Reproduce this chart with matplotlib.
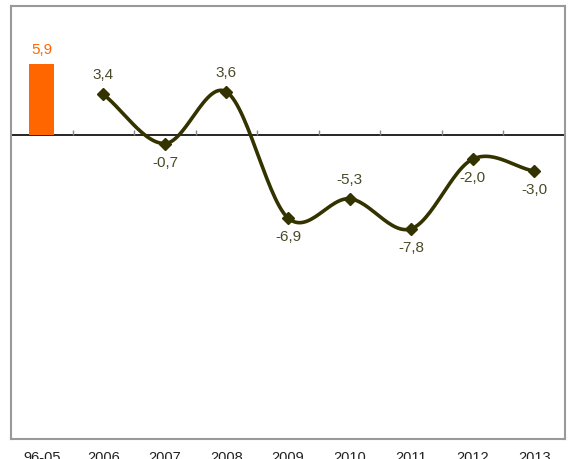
import numpy as np
import matplotlib
matplotlib.use("Agg")
import matplotlib.pyplot as plt

plt.rcParams['font.family'] = ['Liberation Sans Narrow', 'Liberation Sans', 'DejaVu Sans']

categories = ["96-05", "2006", "2007", "2008", "2009", "2010", "2011", "2012", "2013"]
bar_value = 5.9
line_values = [3.4, -0.7, 3.6, -6.9, -5.3, -7.8, -2.0, -3.0]
label_above = [True, False, True, False, True, False, False, False]

fig = plt.figure(figsize=(5.68, 4.59), dpi=100)
ax = fig.add_axes([11/568, 20/459, 554/568, 433/459])

x = np.arange(len(categories))
ax.bar(x[0], bar_value, width=0.41, color="#FF6600", zorder=2)
ax.text(x[0], bar_value + 0.6, f"{bar_value:.1f}".replace(".", ","), ha="center", va="bottom",
        color="#FF6600", fontsize=11)

lx = x[1:].astype(float)
ly = np.array(line_values, dtype=float)

# Catmull-Rom smoothing between points (Excel-style smoothed line)
def smooth(px, py, n=30):
    P = np.column_stack([px, py])
    P = np.vstack([P[0] - (P[1] - P[0]), P, P[-1] + (P[-1] - P[-2])])
    out = []
    for i in range(1, len(P) - 2):
        p0, p1, p2, p3 = P[i - 1], P[i], P[i + 1], P[i + 2]
        c1 = p1 + (p2 - p0) / 6
        c2 = p2 - (p3 - p1) / 6
        t = np.linspace(0, 1, n)[:, None]
        seg = (1 - t) ** 3 * p1 + 3 * (1 - t) ** 2 * t * c1 + 3 * (1 - t) * t ** 2 * c2 + t ** 3 * p2
        out.append(seg if i == 1 else seg[1:])
    s = np.vstack(out)
    return s[:, 0], s[:, 1]

sx, sy = smooth(lx, ly)
ax.plot(sx, sy, color="#333300", lw=2.6, zorder=3, solid_capstyle="round")
ax.plot(lx, ly, linestyle="none", marker="D", markersize=6, color="#333300", zorder=4)

for xi, yi, up in zip(lx, ly, label_above):
    txt = f"{yi:.1f}".replace(".", ",")
    if up:
        ax.text(xi, yi + 1.0, txt, ha="center", va="bottom", color="#4a4a2a", fontsize=11)
    else:
        ax.text(xi, yi - 1.0, txt, ha="center", va="top", color="#4a4a2a", fontsize=11)

# zero line with small category-boundary ticks
ax.axhline(0, color="black", lw=1.2, zorder=1)
bounds = np.arange(len(categories) - 1) + 0.5
ax.vlines(bounds, 0, 0.4, color="#888888", lw=1, zorder=1)

ax.set_xlim(-0.5, len(categories) - 0.5)
ax.set_ylim(-25.3, 10.75)
ax.set_yticks([])
ax.set_xticks(x)
ax.set_xticklabels(categories, fontsize=10.5, color="#222222")
ax.tick_params(axis="x", length=0, pad=9)
for sp in ax.spines.values():
    sp.set_color("#999999")
    sp.set_linewidth(1.5)

fig.savefig("out.png", dpi=100)
